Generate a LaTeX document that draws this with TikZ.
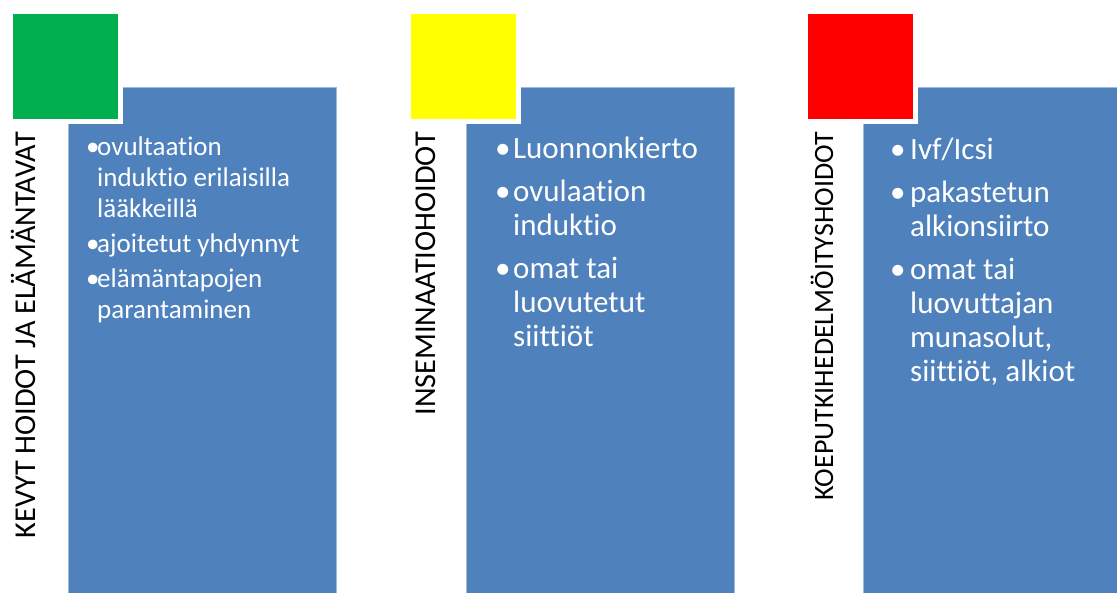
\documentclass[tikz,border=0pt]{standalone}
\usepackage{fontspec}
\setmainfont{Carlito}[Ligatures={NoCommon,NoContextual},RawFeature={-liga;-clig;-dlig}]
\usetikzlibrary{positioning}
\definecolor{panelblue}{RGB}{79,129,189}
\definecolor{okgreen}{RGB}{0,176,80}
\definecolor{okyellow}{RGB}{255,255,0}
\definecolor{okred}{RGB}{255,0,0}
\tikzstyle{panel}=[fill=panelblue,draw=panelblue!55!white,line width=0.8pt]
\tikzstyle{sq}=[draw=white,line width=5pt,minimum size=110pt,inner sep=0pt]
\tikzstyle{vert}=[rotate=90,anchor=base east,inner sep=0pt,font=\fontsize{30.3}{34}\selectfont]
\tikzstyle{items}=[anchor=base west,inner sep=0pt,text=white]

\begin{document}
\begin{tikzpicture}[x=1pt,y=-1pt]
\useasboundingbox (0,0) rectangle (1117,592);
% blue panels
\draw[panel] (68,87) rectangle (336,600);
\draw[panel] (466,87) rectangle (734,600);
\draw[panel] (863,87) rectangle (1130,600);
% colour squares
\node[sq,fill=okgreen] (S1) at (65.5,66.5) {};
\node[sq,fill=okyellow] (S2) at (463.5,66.5) {};
\node[sq,fill=okred] (S3) at (860.5,66.5) {};
% vertical titles
\node[vert] (T1) at (35,132) {KEVYT HOIDOT JA ELÄMÄNTAVAT};
\node[vert] (T2) at (435,132) {INSEMINAATIOHOIDOT};
\node[vert,font=\fontsize{28}{32}\selectfont] (T3) at (833,132) {KOEPUTKIHEDELMÖITYSHOIDOT};
% bullet lists
\node[items,font=\fontsize{27}{31}\selectfont] (L1) at (86,155) {%
\begin{tabular}[t]{@{}p{11pt}@{}l@{}}
\textbullet & ovultaation\\
 & induktio erilaisilla\\
 & lääkkeillä\\[4pt]
\textbullet & ajoitetut yhdynnyt\\[4pt]
\textbullet & elämäntapojen\\
 & parantaminen
\end{tabular}};
\node[items,font=\fontsize{31}{34}\selectfont] (L2) at (495,158) {%
\begin{tabular}[t]{@{}p{18pt}@{}l@{}}
\textbullet & Luonnonkierto\\[9pt]
\textbullet & ovulaation\\
 & induktio\\[9pt]
\textbullet & omat tai\\
 & luovutetut\\
 & siittiöt
\end{tabular}};
\node[items,font=\fontsize{31}{34}\selectfont] (L3) at (890,159) {%
\begin{tabular}[t]{@{}p{20pt}@{}l@{}}
\textbullet & Ivf/Icsi\\[9pt]
\textbullet & pakastetun\\
 & alkionsiirto\\[9pt]
\textbullet & omat tai\\
 & luovuttajan\\
 & munasolut,\\
 & siittiöt, alkiot
\end{tabular}};
\end{tikzpicture}
\end{document}
